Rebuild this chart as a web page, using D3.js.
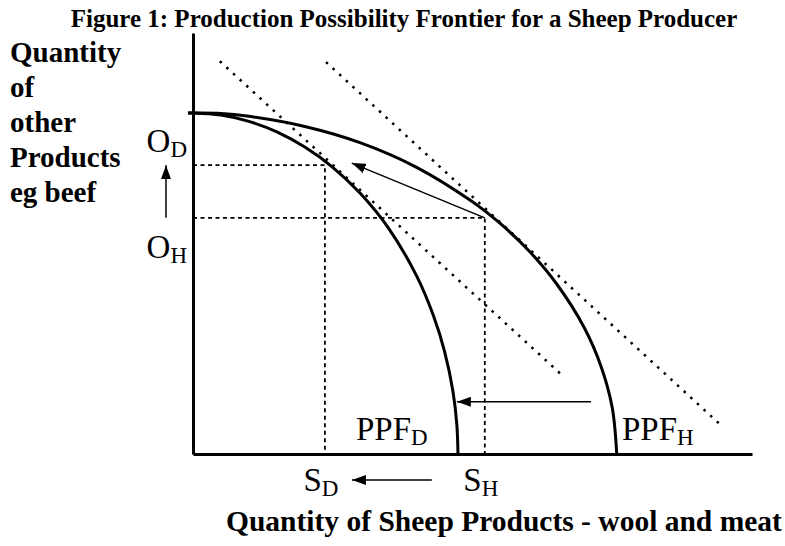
<!DOCTYPE html>
<html>
<head>
<meta charset="utf-8">
<script src="https://cdn.jsdelivr.net/npm/d3@7"></script>
<style>
  body { margin: 0; background: #fff; }
  text { font-family: "Times New Roman", "Liberation Serif", serif; fill: #000; }
</style>
</head>
<body>
<div id="chart"></div>
<script>
// PPF curves (x = sheep products, y = other products, 0-100 units)
const ppfD = [[-0.9, 81], [0, 81], [5, 80.5], [10, 79], [15, 76.5], [20, 72.9], [25, 68.1], [30, 61.8],
    [35, 53.6], [40, 42.3], [43, 32.9], [45, 24.4], [46.5, 14.9], [47.2, 6.9], [47.4, 0]];
const ppfH = [[-0.9, 81], [0, 81], [5, 80.9], [10, 80.2], [20, 77.8], [30, 73.9], [40, 68.1], [50, 59.9],
    [55, 54.7], [60, 48.4], [65, 40.5], [70, 30.0], [73, 20.8], [75, 11.0], [75.8, 0]];

// dotted price-ratio lines (start, end)
const priceLines = [[[4.8, 93.3], [66.2, 18.5]], [[23.8, 93.1], [94.8, 6.4]]];

// production points: S = sheep, O = other products
const sheepLevels = [23.6, 52.2];   // D, H
const otherLevels = [68.6, 56.1];   // D, H
const levelNames = ["D", "H"];

// shift arrows
const pointShift = [[52.2, 56.1], [28.4, 69.1]];
const frontierShift = [[71.2, 12.4], [47.2, 12.4]];

const yTitle = ["Quantity", "of", "other", "Products", "eg beef"];
const xTitle = "Quantity of Sheep Products - wool and meat";
const title = "Figure 1: Production Possibility Frontier for a Sheep Producer";

const svg = d3.select('#chart').append('svg')
    .attr('width', 785)
    .attr('height', 546);

const x = d3.scaleLinear().domain([0, 100]).range([193, 752]);
const y = d3.scaleLinear().domain([0, 100]).range([454, 33]);

svg.append("defs").append("marker")
    .attr("id", "arrow")
    .attr("viewBox", "0 0 14 10")
    .attr("refX", 14)
    .attr("refY", 5)
    .attr("markerWidth", 14)
    .attr("markerHeight", 10)
    .attr("markerUnits", "userSpaceOnUse")
    .attr("orient", "auto")
    .append("path")
    .attr("d", "M0,0L14,5L0,10Z")
    .attr("fill", "#000");

// title
svg.append("text")
    .attr("x", 404)
    .attr("y", 27)
    .attr("text-anchor", "middle")
    .style("font-weight", "bold")
    .style("font-size", "25px")
    .text(title);

// dashed guides to the axes
const guides = svg.append("g")
    .attr("stroke", "#000")
    .attr("stroke-width", 1.8)
    .attr("stroke-dasharray", "4,3.5")
    .attr("fill", "none");

sheepLevels.forEach((s, i) => {
    guides.append("path")
        .attr("d", d3.line()([[x(0), y(otherLevels[i])], [x(s), y(otherLevels[i])], [x(s), y(0)]]));
});

// dotted price lines
priceLines.forEach(p => {
    svg.append("line")
        .attr("x1", x(p[0][0])).attr("y1", y(p[0][1]))
        .attr("x2", x(p[1][0])).attr("y2", y(p[1][1]))
        .attr("stroke", "#000")
        .attr("stroke-width", 2.5)
        .attr("stroke-dasharray", "2.5,6.5");
});

// frontiers
const curve = d3.line()
    .x(d => x(d[0]))
    .y(d => y(d[1]))
    .curve(d3.curveCatmullRom.alpha(0.5));

[ppfD, ppfH].forEach(c => {
    svg.append("path")
        .attr("d", curve(c))
        .attr("fill", "none")
        .attr("stroke", "#000")
        .attr("stroke-width", 3);
});

// axes (no ticks)
svg.append("g")
    .attr("transform", `translate(0, ${y(0)})`)
    .call(d3.axisBottom(x).tickValues([]).tickSizeOuter(0))
    .select(".domain")
    .attr("stroke-width", 3);

svg.append("g")
    .attr("transform", `translate(${x(0)}, 0)`)
    .call(d3.axisLeft(y).tickValues([]).tickSizeOuter(0))
    .select(".domain")
    .attr("stroke-width", 3);

// shift arrows
[pointShift, frontierShift].forEach(a => {
    svg.append("line")
        .attr("x1", x(a[0][0])).attr("y1", y(a[0][1]))
        .attr("x2", x(a[1][0])).attr("y2", y(a[1][1]))
        .attr("stroke", "#000")
        .attr("stroke-width", 1.5)
        .attr("marker-end", "url(#arrow)");
});

// arrow between O labels
svg.append("line")
    .attr("x1", 166).attr("y1", y(otherLevels[1]))
    .attr("x2", 166).attr("y2", y(otherLevels[0]))
    .attr("stroke", "#000")
    .attr("stroke-width", 1.5)
    .attr("marker-end", "url(#arrow)");

// arrow between S labels
svg.append("line")
    .attr("x1", x(sheepLevels[1]) - 53).attr("y1", 480)
    .attr("x2", x(sheepLevels[0]) + 27).attr("y2", 480)
    .attr("stroke", "#000")
    .attr("stroke-width", 1.5)
    .attr("marker-end", "url(#arrow)");

// labels with subscripts
function subLabel(px, py, main, sub, anchor) {
    const t = svg.append("text")
        .attr("x", px)
        .attr("y", py)
        .attr("text-anchor", anchor)
        .style("font-size", "33px");
    t.append("tspan").text(main);
    t.append("tspan").attr("dy", 5).style("font-size", "23px").text(sub);
}

const oLabelY = [152, 258];
levelNames.forEach((n, i) => {
    subLabel(x(sheepLevels[i]) - 4, 491, "S", n, "middle");
    subLabel(187, oLabelY[i], "O", n, "end");
});

subLabel(356, 440, "PPF", "D", "start");
subLabel(622, 440, "PPF", "H", "start");

// axis titles
svg.append("g").selectAll("text")
    .data(yTitle)
    .enter()
    .append("text")
    .attr("x", 10)
    .attr("y", (d, i) => 62 + i * 35)
    .style("font-weight", "bold")
    .style("font-size", "29px")
    .text(d => d);

svg.append("text")
    .attr("x", 226)
    .attr("y", 531)
    .style("font-weight", "bold")
    .style("font-size", "29.5px")
    .text(xTitle);
</script>
</body>
</html>
